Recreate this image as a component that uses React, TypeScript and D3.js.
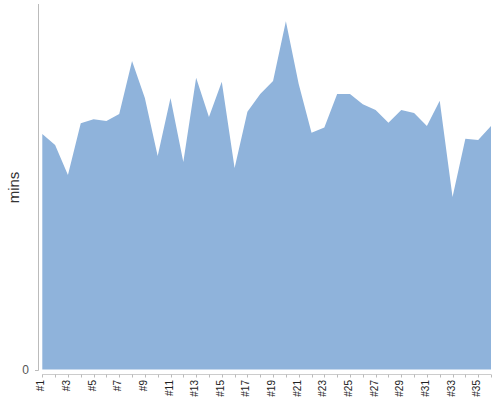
import React from "react";
import * as d3 from "d3";

const categories: string[] = Array.from({ length: 36 }, (_, i) => `#${i + 1}`);
const values: number[] = [
  64.4, 61.4, 53.2, 67.4, 68.5, 68.0, 69.9, 84.4, 74.3, 58.4,
  74.3, 56.8, 79.8, 69.1, 78.7, 55.1, 70.5, 75.4, 78.9, 95.3,
  78.1, 64.8, 66.2, 75.4, 75.4, 72.6, 71.0, 67.5, 71.0, 70.2,
  66.6, 73.5, 47.2, 63.1, 62.8, 66.6,
];
const yTicks: number[] = [0];
const yLabel = "mins";

export default function App() {
  const W = 500, H = 400;
  const x = d3.scalePoint<string>().domain(categories).range([42.3, 491]);
  const y = d3.scaleLinear().domain([0, 100]).range([369.5, 4]);
  const data = categories.map((c, i) => ({ c, v: values[i] }));
  const area = d3
    .area<{ c: string; v: number }>()
    .x((d) => x(d.c) as number)
    .y0(y(0))
    .y1((d) => y(d.v));
  const font = "Arial, 'Liberation Sans', sans-serif";
  const axisY = 374.5;
  return (
    <svg width={W} height={H} style={{ position: "absolute", left: 0, top: 0 }} fontFamily={font}>
      <path d={area(data) || ""} fill="#8fb3db" />
      {/* y axis */}
      <line x1={38.5} x2={38.5} y1={4} y2={370.5} stroke="#bbb" strokeWidth={1} />
      {yTicks.map((t) => (
        <g key={t}>
          <line x1={35} x2={38.5} y1={Math.round(y(t)) + 0.5} y2={Math.round(y(t)) + 0.5} stroke="#bbb" />
          <text x={29} y={y(t) + 1} textAnchor="end" dominantBaseline="middle" fontSize={12} fill="#555">
            {t}
          </text>
        </g>
      ))}
      <text
        transform={`translate(18.5, 187.5) rotate(-90)`}
        textAnchor="middle"
        fontSize={15}
        fill="#333"
      >
        {yLabel}
      </text>
      {/* x axis */}
      <line x1={x(categories[0]) as number} x2={x(categories[categories.length - 1]) as number} y1={axisY} y2={axisY} stroke="#ccc" />
      {categories.map((c, i) => {
        const px = Math.round(x(c) as number) + 0.5;
        return (
          <g key={c}>
            <line x1={px} x2={px} y1={axisY} y2={axisY + 3} stroke="#bbb" />
            {i % 2 === 0 && (
              <text
                transform={`translate(${px + 1.5}, 380) rotate(-90)`}
                textAnchor="end"
                fontSize={10}
                fill="#222"
              >
                {c}
              </text>
            )}
          </g>
        );
      })}
    </svg>
  );
}
